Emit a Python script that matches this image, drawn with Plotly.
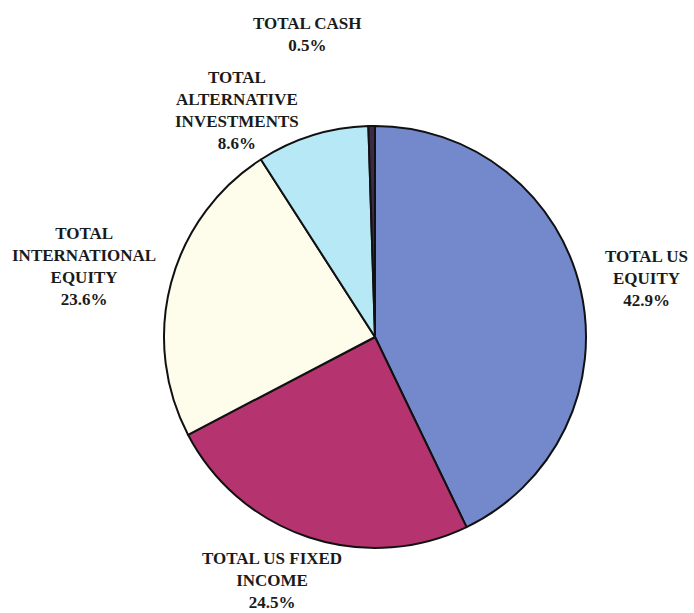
import plotly.graph_objects as go

# Asset allocation, clockwise from 12 o'clock
categories = [
    "TOTAL US<br>EQUITY",
    "TOTAL US FIXED<br>INCOME",
    "TOTAL<br>INTERNATIONAL<br>EQUITY",
    "TOTAL<br>ALTERNATIVE<br>INVESTMENTS",
    "TOTAL CASH",
]
weights = [42.9, 24.5, 23.6, 8.6, 0.5]
slice_colors = ["#7389CC", "#B5336E", "#FEFDEC", "#B6E8F5", "#3D2A45"]

# Label anchor points (pixels from top-left of the 694x613 canvas)
label_x = [646, 272, 84, 237, 307]
label_y = [278, 580, 266, 110, 34]

W, H = 694, 613
cx, cy, r = 375, 337, 211

fig = go.Figure(
    go.Pie(
        values=weights,
        labels=categories,
        marker=dict(colors=slice_colors, line=dict(color="#111111", width=2)),
        sort=False,
        direction="clockwise",
        rotation=0,
        textinfo="none",
        hoverinfo="label+percent",
        showlegend=False,
        domain=dict(
            x=[(cx - r) / W, (cx + r) / W],
            y=[1 - (cy + r) / H, 1 - (cy - r) / H],
        ),
    )
)

for name, val, lx, ly in zip(categories, weights, label_x, label_y):
    fig.add_annotation(
        x=lx / W,
        y=1 - ly / H,
        xref="paper",
        yref="paper",
        text=f"<b>{name}<br>{val:.1f}%</b>",
        showarrow=False,
        xanchor="center",
        yanchor="middle",
        align="center",
        font=dict(family="Liberation Serif", size=17, color="#1a1a1a"),
    )

fig.update_layout(
    width=W,
    height=H,
    margin=dict(l=0, r=0, t=0, b=0),
    paper_bgcolor="white",
    plot_bgcolor="white",
)

fig.write_html("out.html")
